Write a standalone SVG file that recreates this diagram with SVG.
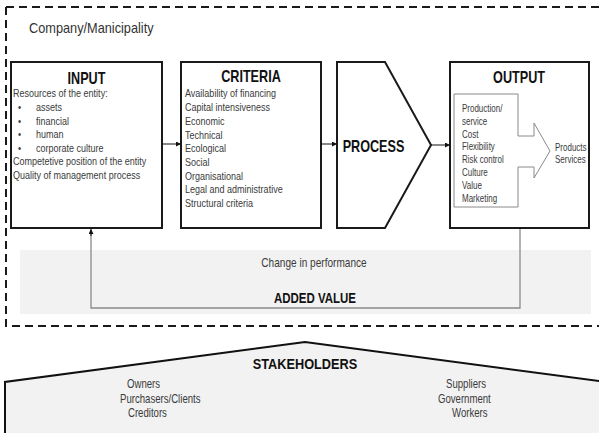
<svg xmlns="http://www.w3.org/2000/svg" width="599" height="433" viewBox="0 0 599 433">
  <style>
    text { font-family: "Liberation Sans", Arial, sans-serif; }
    .box { fill: #ffffff; stroke: #1a1a1a; stroke-width: 2; }
    .head { font-weight: bold; font-size: 16px; fill: #111; text-anchor: middle; }
    .body { font-size: 11px; fill: #3a3a3a; }
    .small { font-size: 10px; fill: #3a3a3a; }
    .sh { font-size: 12px; fill: #3a3a3a; }
    .link { fill: none; stroke: #111; stroke-width: 1; }
    .feedback { fill: none; stroke: #8a8a8a; stroke-width: 1.3; }
  </style>
  <defs>
    <marker id="ah" viewBox="0 0 6 6" refX="6" refY="3" markerWidth="5" markerHeight="5" markerUnits="userSpaceOnUse" orient="auto">
      <path d="M0,0 L6,3 L0,6 z" fill="#111"/>
    </marker>
  </defs>

  <!-- white page -->
  <rect x="0" y="0" width="599" height="433" fill="#ffffff"/>

  <!-- company boundary -->
  <g id="company">
    <path d="M6,7 H620 M6,7 V326 H620" fill="none" stroke="#1a1a1a" stroke-width="2" stroke-dasharray="8 5"/>
    <text x="31.9" y="33" font-size="14" fill="#333" transform="scale(0.91,1)">Company/Manicipality</text>
  </g>

  <!-- added value band -->
  <g id="added-value">
    <rect x="20" y="250" width="571" height="64" fill="#f2f2f2"/>
    <g transform="scale(0.84,1)">
      <text x="373.8" y="267" font-size="12" fill="#3a3a3a" text-anchor="middle">Change in performance</text>
    </g>
    <g transform="scale(0.82,1)">
      <text x="384.1" y="303" font-size="14" font-weight="bold" fill="#111" text-anchor="middle">ADDED VALUE</text>
    </g>
  </g>

  <!-- input -->
  <g id="input">
    <rect class="box" x="11" y="62" width="151" height="166"/>
    <g transform="scale(0.79,1)">
      <text class="head" x="109.5" y="84.5">INPUT</text>
    </g>
    <g transform="scale(0.82,1)">
      <text class="body" x="15.85" y="97.5">Resources of the entity:</text>
      <text class="body" x="21.95" y="111.1">•</text>
      <text class="body" x="43.9" y="111.1">assets</text>
      <text class="body" x="21.95" y="124.7">•</text>
      <text class="body" x="43.9" y="124.7">financial</text>
      <text class="body" x="21.95" y="138.3">•</text>
      <text class="body" x="43.9" y="138.3">human</text>
      <text class="body" x="21.95" y="151.9">•</text>
      <text class="body" x="43.9" y="151.9">corporate culture</text>
      <text class="body" x="15.85" y="165.5">Competetive position of the entity</text>
      <text class="body" x="15.85" y="179.1">Quality of management process</text>
    </g>
  </g>

  <!-- criteria -->
  <g id="criteria">
    <rect class="box" x="181" y="62" width="140" height="166"/>
    <g transform="scale(0.79,1)">
      <text class="head" x="317.7" y="82.5">CRITERIA</text>
    </g>
    <g transform="scale(0.82,1)">
      <text class="body" x="225.6" y="97.5">Availability of financing</text>
      <text class="body" x="225.6" y="111.2">Capital intensiveness</text>
      <text class="body" x="225.6" y="124.9">Economic</text>
      <text class="body" x="225.6" y="138.6">Technical</text>
      <text class="body" x="225.6" y="152.3">Ecological</text>
      <text class="body" x="225.6" y="166">Social</text>
      <text class="body" x="225.6" y="179.7">Organisational</text>
      <text class="body" x="225.6" y="193.4">Legal and administrative</text>
      <text class="body" x="225.6" y="207.1">Structural criteria</text>
    </g>
  </g>

  <!-- process -->
  <g id="process">
    <path class="box" d="M337,62 H385 L431,145 L385,228 H337 Z"/>
    <g transform="scale(0.79,1)">
      <text class="head" x="472.8" y="152">PROCESS</text>
    </g>
  </g>

  <!-- output -->
  <g id="output">
    <rect class="box" x="450" y="62" width="139" height="166"/>
    <g transform="scale(0.79,1)">
      <text class="head" x="657" y="83">OUTPUT</text>
    </g>
    <path d="M454,94 H518 V136 H534 V123 L550,151 L534,178 V167 H518 V207 H454 Z" fill="#ffffff" stroke="#8a8a8a" stroke-width="1"/>
    <g transform="scale(0.8,1)">
      <text class="small" x="577.5" y="112">Production/</text>
      <text class="small" x="577.5" y="124.8">service</text>
      <text class="small" x="577.5" y="137.6">Cost</text>
      <text class="small" x="577.5" y="150.4">Flexibility</text>
      <text class="small" x="577.5" y="163.2">Risk control</text>
      <text class="small" x="577.5" y="176">Culture</text>
      <text class="small" x="577.5" y="188.8">Value</text>
      <text class="small" x="577.5" y="201.6">Marketing</text>
      <text class="small" x="693.8" y="151">Products</text>
      <text class="small" x="693.8" y="163">Services</text>
    </g>
  </g>

  <!-- connectors -->
  <g id="connectors">
    <line class="link" x1="162" y1="144" x2="181" y2="144" marker-end="url(#ah)"/>
    <line class="link" x1="321" y1="144" x2="337" y2="144" marker-end="url(#ah)"/>
    <line class="link" x1="431" y1="145" x2="450" y2="145" marker-end="url(#ah)"/>
    <path class="feedback" d="M520,229 V308 H91 V232"/>
    <line class="link" x1="91" y1="236" x2="91" y2="229" marker-end="url(#ah)"/>
  </g>

  <!-- stakeholders -->
  <g id="stakeholders">
    <path d="M5,440 V382 L305,342 L606,382 V440" fill="#f2f2f2" stroke="#111" stroke-width="2"/>
    <g transform="scale(0.85,1)">
      <text x="358.8" y="369" font-size="15" font-weight="bold" fill="#111" text-anchor="middle">STAKEHOLDERS</text>
    </g>
    <g transform="scale(0.8,1)">
      <text class="sh" x="158.75" y="388">Owners</text>
      <text class="sh" x="150" y="403">Purchasers/Clients</text>
      <text class="sh" x="160" y="417">Creditors</text>
      <text class="sh" x="557.5" y="388">Suppliers</text>
      <text class="sh" x="547.5" y="403">Government</text>
      <text class="sh" x="565" y="417">Workers</text>
    </g>
  </g>
</svg>
